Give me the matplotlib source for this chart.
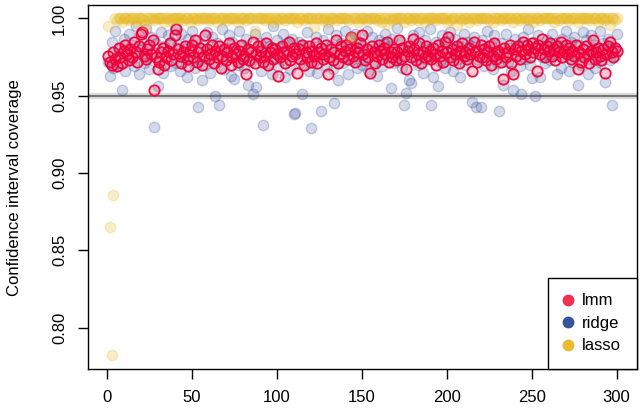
import numpy as np
import matplotlib.pyplot as plt
from matplotlib.lines import Line2D

plt.rcParams['font.family'] = ['Liberation Sans', 'DejaVu Sans']

# coverage per simulation run (index 1..300)
lmm = [
    0.976, 0.972, 0.970, 0.978, 0.974, 0.969, 0.981, 0.975, 0.971, 0.979,
    0.983, 0.977, 0.973, 0.980, 0.975, 0.985, 0.978, 0.972, 0.982, 0.990,
    0.991, 0.976, 0.974, 0.980, 0.983, 0.977, 0.986, 0.954, 0.975, 0.967,
    0.972, 0.978, 0.981, 0.970, 0.975, 0.979, 0.984, 0.973, 0.977, 0.989,
    0.993, 0.980, 0.976, 0.971, 0.978, 0.982, 0.974, 0.969, 0.979, 0.983,
    0.975, 0.986, 0.972, 0.978, 0.981, 0.970, 0.976, 0.989, 0.980, 0.974,
    0.977, 0.983, 0.971, 0.979, 0.975, 0.982, 0.968, 0.976, 0.980, 0.973,
    0.978, 0.984, 0.970, 0.975, 0.981, 0.977, 0.972, 0.979, 0.983, 0.974,
    0.976, 0.964, 0.980, 0.973, 0.978, 0.985, 0.971, 0.977, 0.982, 0.975,
    0.979, 0.972, 0.976, 0.984, 0.970, 0.978, 0.981, 0.974, 0.980, 0.977,
    0.963, 0.975, 0.982, 0.978, 0.971, 0.979, 0.985, 0.973, 0.976, 0.981,
    0.977, 0.965, 0.980, 0.974, 0.983, 0.970, 0.978, 0.975, 0.982, 0.972,
    0.979, 0.976, 0.984, 0.971, 0.978, 0.981, 0.974, 0.977, 0.983, 0.964,
    0.975, 0.980, 0.973, 0.978, 0.986, 0.971, 0.977, 0.982, 0.975, 0.979,
    0.983, 0.974, 0.980, 0.988, 0.976, 0.972, 0.981, 0.978, 0.984, 0.989,
    0.977, 0.973, 0.980, 0.975, 0.965, 0.982, 0.978, 0.971, 0.976, 0.983,
    0.979, 0.974, 0.981, 0.977, 0.985, 0.972, 0.978, 0.975, 0.980, 0.973,
    0.978, 0.986, 0.974, 0.981, 0.976, 0.967, 0.979, 0.982, 0.975, 0.987,
    0.980, 0.973, 0.977, 0.984, 0.971, 0.978, 0.975, 0.982, 0.976, 0.979,
    0.974, 0.981, 0.977, 0.970, 0.983, 0.976, 0.979, 0.972, 0.985, 0.978,
    0.988, 0.975, 0.980, 0.973, 0.977, 0.982, 0.971, 0.979, 0.984, 0.976,
    0.978, 0.974, 0.981, 0.977, 0.966, 0.985, 0.979, 0.972, 0.976, 0.983,
    0.975, 0.980, 0.973, 0.978, 0.982, 0.970, 0.976, 0.984, 0.974, 0.979,
    0.977, 0.972, 0.961, 0.981, 0.975, 0.978, 0.983, 0.971, 0.964, 0.980,
    0.976, 0.982, 0.974, 0.979, 0.985, 0.977, 0.983, 0.980, 0.975, 0.984,
    0.978, 0.981, 0.966, 0.983, 0.977, 0.987, 0.980, 0.975, 0.982, 0.979,
    0.984, 0.976, 0.980, 0.973, 0.982, 0.978, 0.985, 0.975, 0.979, 0.983,
    0.977, 0.981, 0.974, 0.979, 0.976, 0.983, 0.967, 0.978, 0.972, 0.980,
    0.975, 0.982, 0.977, 0.971, 0.979, 0.986, 0.974, 0.978, 0.981, 0.976,
    0.973, 0.980, 0.965, 0.977, 0.982, 0.985, 0.978, 0.975, 0.981, 0.979,
]

ridge = [
    0.972, 0.963, 0.985, 0.968, 0.992, 0.976, 0.981, 0.970, 0.954, 0.987,
    0.966, 0.979, 0.990, 0.974, 0.983, 0.969, 0.995, 0.977, 0.964, 0.986,
    0.980, 0.971, 0.993, 0.975, 0.967, 0.988, 0.978, 0.930, 0.984, 0.9565,
    0.973, 0.991, 0.965, 0.982, 0.976, 0.989, 0.969, 0.985, 0.978, 0.994,
    0.971, 0.983, 0.966, 0.990, 0.975, 0.980, 0.962, 0.987, 0.973, 0.992,
    0.979, 0.968, 0.986, 0.943, 0.974, 0.960, 0.982, 0.970, 0.991, 0.977,
    0.965, 0.988, 0.972, 0.950, 0.984, 0.944, 0.979, 0.993, 0.967, 0.981,
    0.975, 0.989, 0.963, 0.985, 0.961, 0.978, 0.970, 0.992, 0.974, 0.983,
    0.968, 0.987, 0.957, 0.980, 0.972, 0.951, 0.990, 0.9556, 0.976, 0.984,
    0.966, 0.931, 0.979, 0.988, 0.971, 0.982, 0.964, 0.995, 0.975, 0.986,
    0.969, 0.981, 0.973, 0.990, 0.962, 0.984, 0.977, 0.967, 0.987, 0.938,
    0.939, 0.978, 0.985, 0.971, 0.951, 0.983, 0.974, 0.991, 0.966, 0.929,
    0.980, 0.972, 0.988, 0.965, 0.976, 0.940, 0.986, 0.979, 0.969, 0.993,
    0.975, 0.982, 0.967, 0.945, 0.989, 0.960, 0.977, 0.984, 0.971, 0.992,
    0.978, 0.964, 0.987, 0.973, 0.981, 0.990, 0.968, 0.976, 0.985, 0.970,
    0.983, 0.974, 0.992, 0.966, 0.979, 0.988, 0.972, 0.980, 0.963, 0.986,
    0.977, 0.969, 0.984, 0.990, 0.975, 0.982, 0.955, 0.987, 0.971, 0.979,
    0.994, 0.973, 0.985, 0.968, 0.944, 0.9516, 0.981, 0.960, 0.958, 0.989,
    0.976, 0.983, 0.970, 0.991, 0.978, 0.965, 0.986, 0.974, 0.980, 0.993,
    0.944, 0.962, 0.977, 0.985, 0.956, 0.972, 0.989, 0.981, 0.968, 0.984,
    0.975, 0.991, 0.979, 0.966, 0.987, 0.973, 0.982, 0.962, 0.978, 0.990,
    0.970, 0.985, 0.976, 0.983, 0.946, 0.988, 0.943, 0.974, 0.980, 0.943,
    0.986, 0.969, 0.979, 0.992, 0.975, 0.983, 0.967, 0.989, 0.977, 0.971,
    0.940, 0.984, 0.957, 0.978, 0.990, 0.972, 0.981, 0.966, 0.954, 0.987,
    0.976, 0.983, 0.969, 0.951, 0.988, 0.974, 0.980, 0.993, 0.970, 0.9615,
    0.985, 0.950, 0.978, 0.989, 0.962, 0.975, 0.982, 0.971, 0.986, 0.979,
    0.973, 0.990, 0.977, 0.984, 0.964, 0.981, 0.968, 0.987, 0.975, 0.992,
    0.979, 0.966, 0.985, 0.972, 0.988, 0.976, 0.957, 0.983, 0.970, 0.991,
    0.977, 0.986, 0.964, 0.974, 0.989, 0.980, 0.968, 0.983, 0.975, 0.992,
    0.971, 0.984, 0.959, 0.978, 0.987, 0.973, 0.944, 0.981, 0.976, 0.990,
]

lasso = [
    0.995, 0.865, 0.782, 0.886, 1.000, 0.999, 1.000, 1.000, 0.998, 1.000,
    1.000, 1.000, 0.999, 1.000, 1.000, 1.000, 0.998, 1.000, 1.000, 1.000,
    1.000, 0.999, 0.9966, 1.000, 1.000, 1.000, 1.000, 0.999, 1.000, 1.000,
    1.000, 1.000, 1.000, 0.998, 1.000, 1.000, 0.999, 1.000, 1.000, 1.000,
    1.000, 1.000, 1.000, 1.000, 0.999, 1.000, 1.000, 1.000, 0.998, 1.000,
    1.000, 1.000, 0.999, 1.000, 1.000, 1.000, 1.000, 1.000, 1.000, 0.999,
    1.000, 1.000, 1.000, 1.000, 0.998, 1.000, 1.000, 1.000, 1.000, 1.000,
    0.999, 1.000, 1.000, 1.000, 1.000, 1.000, 0.998, 1.000, 1.000, 1.000,
    1.000, 0.999, 1.000, 1.000, 1.000, 1.000, 0.992, 1.000, 1.000, 1.000,
    1.000, 1.000, 0.999, 1.000, 1.000, 1.000, 1.000, 0.998, 1.000, 1.000,
    0.9987, 1.000, 1.000, 1.000, 0.999, 1.000, 1.000, 1.000, 1.000, 1.000,
    1.000, 0.998, 1.000, 1.000, 1.000, 0.999, 1.000, 1.000, 1.000, 1.000,
    1.000, 0.9944, 1.000, 1.000, 1.000, 1.000, 0.999, 1.000, 1.000, 0.998,
    1.000, 1.000, 1.000, 1.000, 0.999, 1.000, 1.000, 1.000, 1.000, 1.000,
    1.000, 0.999, 1.000, 0.988, 1.000, 1.000, 1.000, 0.998, 1.000, 1.000,
    1.000, 1.000, 0.999, 1.000, 1.000, 1.000, 1.000, 1.000, 0.999, 1.000,
    1.000, 0.998, 1.000, 1.000, 0.9966, 1.000, 1.000, 0.999, 1.000, 1.000,
    1.000, 1.000, 1.000, 1.000, 0.998, 1.000, 1.000, 1.000, 0.999, 1.000,
    1.000, 1.000, 0.999, 1.000, 1.000, 1.000, 0.998, 1.000, 1.000, 1.000,
    1.000, 1.000, 1.000, 0.999, 1.000, 1.000, 1.000, 1.000, 1.000, 0.998,
    1.000, 0.999, 1.000, 1.000, 1.000, 0.9955, 1.000, 1.000, 0.999, 1.000,
    1.000, 1.000, 0.998, 1.000, 1.000, 1.000, 1.000, 0.999, 1.000, 1.000,
    1.000, 1.000, 1.000, 1.000, 0.999, 1.000, 0.998, 1.000, 1.000, 1.000,
    1.000, 0.999, 1.000, 1.000, 1.000, 1.000, 1.000, 1.000, 0.998, 1.000,
    1.000, 1.000, 0.999, 1.000, 1.000, 1.000, 1.000, 0.999, 1.000, 1.000,
    0.998, 1.000, 1.000, 1.000, 0.999, 1.000, 1.000, 1.000, 1.000, 1.000,
    1.000, 1.000, 0.998, 1.000, 1.000, 0.999, 1.000, 1.000, 1.000, 1.000,
    1.000, 0.999, 1.000, 1.000, 1.000, 1.000, 0.998, 1.000, 1.000, 1.000,
    1.000, 1.000, 1.000, 0.999, 1.000, 1.000, 1.000, 1.000, 0.998, 1.000,
    1.000, 1.000, 0.999, 1.000, 1.000, 0.9955, 1.000, 1.000, 0.999, 1.000,
]

runs = np.arange(1, len(lmm) + 1)

col_lmm = '#F0284A'
col_ridge = '#2D4C9A'
col_lasso = '#E9B821'

fig = plt.figure(figsize=(6.4, 4.13), dpi=100)
ax = fig.add_axes([0.1375, 0.1058, 0.8578, 0.8821])

# nominal 95% line
ax.axhline(0.95, color='#DADADA', lw=4.5, zorder=1)
ax.axhline(0.95, color='#555555', lw=1.1, zorder=1.1)

s = 56
ax.scatter(runs, ridge, s=s, facecolor=(0.17, 0.28, 0.60, 0.2),
           edgecolor=(0.17, 0.28, 0.60, 0.25), linewidth=1.0, zorder=2)
ax.scatter(runs, lmm, s=s, facecolor=(0.95, 0.05, 0.25, 0.22),
           edgecolor=(0.95, 0.0, 0.22, 0.95), linewidth=1.3, zorder=3)
ax.scatter(runs, lasso, s=s, facecolor=(0.91, 0.72, 0.13, 0.25),
           edgecolor=(0.91, 0.72, 0.13, 0.25), linewidth=1.0, zorder=4)

ax.set_xlim(-10.96, 311.96)
ax.set_ylim(0.7730, 1.0087)
ax.set_xticks(np.arange(0, 301, 50))
ax.set_yticks([0.80, 0.85, 0.90, 0.95, 1.00])
ax.set_yticklabels(['0.80', '0.85', '0.90', '0.95', '1.00'], rotation=90, va='center')
ax.tick_params(direction='out', length=7, width=1, labelsize=12, pad=8)
for sp in ax.spines.values():
    sp.set_linewidth(1.0)
ax.set_ylabel('Confidence interval coverage', fontsize=12, labelpad=22)

handles = [Line2D([], [], ls='none', marker='o', ms=7.5, mfc=c, mec=c, alpha=0.95)
           for c in (col_lmm, col_ridge, col_lasso)]
leg = ax.legend(handles, ['lmm', 'ridge', 'lasso'], loc='lower right',
                borderaxespad=0, fontsize=12, fancybox=False, framealpha=1,
                edgecolor='black', handlelength=0.5, handletextpad=0.6,
                labelspacing=0.45, borderpad=0.95)
leg.get_frame().set_linewidth(1.0)

fig.savefig('out.png', dpi=100)
